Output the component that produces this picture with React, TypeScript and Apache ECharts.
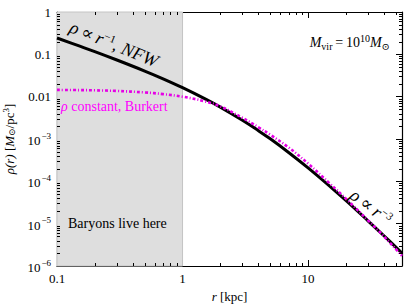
import React, { useEffect, useRef } from 'react';
import * as echarts from 'echarts';

// radius in kpc
const radii = [0.1, 0.15, 0.2, 0.3, 0.5, 0.7, 1, 1.5, 2, 3, 4, 5, 7, 10, 15, 20, 30, 40, 56];
// density in M_sun / pc^3
const nfwDensity = [0.243, 0.158, 0.116, 0.0735, 0.0403, 0.0264, 0.0163, 0.00897, 0.00566, 0.00277, 0.00159, 0.00101, 4.81e-4, 2.08e-4, 7.53e-5, 3.54e-5, 1.17e-5, 5.26e-6, 2.02e-6];
const burkertDensity = [0.01445, 0.0143, 0.01413, 0.01365, 0.01259, 0.01148, 0.01, 0.00776, 0.00589, 0.00316, 0.00191, 0.00126, 6.3e-4, 2.63e-4, 8.7e-5, 3.9e-5, 1.2e-5, 5.1e-6, 1.74e-6];

const xMin = 0.1;
const xMax = 56;
const yMin = 1e-6;
const yMax = 1;
const baryonRegion = [0.1, 1];

const xTickValues = [0.1, 1, 10];
const xTickLabels = ['0.1', '1', '10'];
const yTickValues = [1, 0.1, 0.01, 1e-3, 1e-4, 1e-5, 1e-6];
const yTickLabels = ['1', '0.1', '0.01', '{b|10}{s|−3}', '{b|10}{s|−4}', '{b|10}{s|−5}', '{b|10}{s|−6}'];

const SERIF = "'Liberation Serif', 'DejaVu Serif', serif";

function minorTicks(lo: number, hi: number): number[] {
  const out: number[] = [];
  for (let d = Math.floor(Math.log10(lo)); d <= Math.ceil(Math.log10(hi)); d++) {
    for (let k = 2; k <= 9; k++) {
      const v = k * Math.pow(10, d);
      if (v > lo && v < hi) out.push(v);
    }
  }
  return out;
}

function labelFor(values: number[], labels: string[], v: number): string {
  for (let i = 0; i < values.length; i++) {
    if (Math.abs(Math.log10(v) - Math.log10(values[i])) < 1e-6) return labels[i];
  }
  return '';
}

export default function App() {
  const ref = useRef<HTMLDivElement>(null);
  useEffect(() => {
    if (!ref.current) return;
    const chart = echarts.init(ref.current, null, { renderer: 'svg' });
    const nfwData = radii.map((r, i) => [r, nfwDensity[i]]);
    const burData = radii.map((r, i) => [r, burkertDensity[i]]);
    const minorData: number[][] = [];
    minorTicks(xMin, xMax).forEach((v) => minorData.push([v, yMax, 0]));
    minorTicks(yMin, yMax).forEach((v) => minorData.push([xMin, v, 1]));

    const tickStyle = { show: true, inside: true, length: 6, lineStyle: { color: '#000', width: 1 } };
    const lineStyle = { show: true, lineStyle: { color: '#000', width: 1.2 } };

    chart.setOption({
      animation: false,
      backgroundColor: '#fff',
      grid: { left: 57, right: 5, top: 12, bottom: 38, containLabel: false, outerBoundsMode: 'none' },
      xAxis: [
        {
          type: 'log', logBase: 10, min: xMin, max: xMax, position: 'bottom',
          axisLine: lineStyle, axisTick: tickStyle, splitLine: { show: false },
          axisLabel: {
            color: '#000', fontFamily: SERIF, fontSize: 13, margin: 6,
            formatter: (v: number) => labelFor(xTickValues, xTickLabels, v),
          },
          name: '{i|r} [kpc]', nameLocation: 'middle', nameGap: 22,
          nameTextStyle: { color: '#000', fontFamily: SERIF, fontSize: 13, rich: { i: { fontStyle: 'italic', fontFamily: SERIF, fontSize: 13, color: '#000' } } },
        },
        {
          type: 'log', logBase: 10, min: xMin, max: xMax, position: 'top',
          axisLine: lineStyle, axisTick: tickStyle, axisLabel: { show: false }, splitLine: { show: false },
        },
      ],
      yAxis: [
        {
          type: 'log', logBase: 10, min: yMin, max: yMax, position: 'left',
          axisLine: lineStyle, axisTick: tickStyle, splitLine: { show: false },
          axisLabel: {
            color: '#000', fontFamily: SERIF, fontSize: 13, margin: 6,
            formatter: (v: number) => labelFor(yTickValues, yTickLabels, v),
            rich: {
              b: { fontFamily: SERIF, fontSize: 13, color: '#000', lineHeight: 16, verticalAlign: 'bottom' },
              s: { fontFamily: SERIF, fontSize: 9, color: '#000', lineHeight: 16, verticalAlign: 'top', padding: [0, 0, 0, 1] },
            },
          },
          name: '{i|ρ(r)} [{i|M}{sub|⊙}/pc{sup|3}]', nameLocation: 'middle', nameGap: 40, nameRotate: 90,
          nameTextStyle: {
            color: '#000', fontFamily: SERIF, fontSize: 13,
            rich: {
              i: { fontStyle: 'italic', fontFamily: SERIF, fontSize: 13, color: '#000', lineHeight: 15 },
              sub: { fontFamily: SERIF, fontSize: 9, color: '#000', lineHeight: 15, verticalAlign: 'bottom' },
              sup: { fontFamily: SERIF, fontSize: 9, color: '#000', lineHeight: 15, verticalAlign: 'top' },
            },
          },
        },
        {
          type: 'log', logBase: 10, min: yMin, max: yMax, position: 'right',
          axisLine: lineStyle, axisTick: tickStyle, axisLabel: { show: false }, splitLine: { show: false },
        },
      ],
      series: [
        {
          type: 'line', name: 'NFW', data: nfwData, smooth: 0.4, showSymbol: false, z: 3,
          lineStyle: { color: '#000', width: 3 },
          markArea: {
            silent: true,
            itemStyle: { color: '#dedede', borderColor: '#c4c4c4', borderWidth: 1 },
            data: [[{ xAxis: baryonRegion[0] }, { xAxis: baryonRegion[1] }]],
          },
        },
        {
          type: 'line', name: 'Burkert', data: burData, smooth: 0.4, showSymbol: false, z: 4,
          lineStyle: { color: '#e600e6', width: 2.6, type: [3, 2, 1, 2] },
        },
        {
          type: 'custom', name: 'minor', data: minorData, silent: true, z: 10, clip: false,
          renderItem: (params: any, api: any) => {
            const cs = params.coordSys;
            const kind = api.value(2);
            const p = api.coord([api.value(0), api.value(1)]);
            const st = { stroke: '#000', lineWidth: 1 };
            if (kind === 0) {
              const x = Math.round(p[0]) + 0.5;
              return {
                type: 'group',
                children: [
                  { type: 'line', shape: { x1: x, y1: cs.y + cs.height, x2: x, y2: cs.y + cs.height - 3 }, style: st },
                  { type: 'line', shape: { x1: x, y1: cs.y, x2: x, y2: cs.y + 3 }, style: st },
                ],
              };
            }
            const y = Math.round(p[1]) + 0.5;
            return {
              type: 'group',
              children: [
                { type: 'line', shape: { x1: cs.x, y1: y, x2: cs.x + 3, y2: y }, style: st },
                { type: 'line', shape: { x1: cs.x + cs.width, y1: y, x2: cs.x + cs.width - 3, y2: y }, style: st },
              ],
            };
          },
        },
      ],
      graphic: [
        {
          type: 'text', x: 114, y: 44, rotation: -0.39, z: 20,
          style: {
            text: '{i|ρ}\u2009∝\u2009{i|r}{sup|−1}, {i|NFW}', align: 'center', verticalAlign: 'middle',
            fontFamily: SERIF, fontSize: 18, fill: '#000',
            rich: {
              i: { fontStyle: 'italic', fontFamily: SERIF, fontSize: 18, fill: '#000', lineHeight: 20 },
              sup: { fontFamily: SERIF, fontSize: 11, fill: '#000', lineHeight: 20, verticalAlign: 'top' },
            },
          },
        },
        {
          type: 'text', x: 61, y: 106, z: 20,
          style: {
            text: '{i|ρ} constant, Burkert', align: 'left', verticalAlign: 'middle',
            fontFamily: SERIF, fontSize: 14, fill: '#ff00ff',
            rich: { i: { fontStyle: 'italic', fontFamily: SERIF, fontSize: 14, fill: '#ff00ff' } },
          },
        },
        {
          type: 'text', x: 390, y: 42, z: 20,
          style: {
            text: '{i|M}{sub|vir}\u2009=\u200910{sup|10}{i|M}{sub|⊙}', align: 'right', verticalAlign: 'middle',
            fontFamily: SERIF, fontSize: 14, fill: '#000',
            rich: {
              i: { fontStyle: 'italic', fontFamily: SERIF, fontSize: 14, fill: '#000', lineHeight: 18 },
              sub: { fontFamily: SERIF, fontSize: 10, fill: '#000', lineHeight: 18, verticalAlign: 'bottom' },
              sup: { fontFamily: SERIF, fontSize: 10, fill: '#000', lineHeight: 18, verticalAlign: 'top' },
            },
          },
        },
        {
          type: 'text', x: 371, y: 207, rotation: -0.66, z: 20,
          style: {
            text: '{i|ρ}\u2009∝\u2009{i|r}{sup|−3}', align: 'center', verticalAlign: 'middle',
            fontFamily: SERIF, fontSize: 18, fill: '#000',
            rich: {
              i: { fontStyle: 'italic', fontFamily: SERIF, fontSize: 18, fill: '#000', lineHeight: 20 },
              sup: { fontFamily: SERIF, fontSize: 11, fill: '#000', lineHeight: 20, verticalAlign: 'top' },
            },
          },
        },
        {
          type: 'text', x: 68, y: 223, z: 20,
          style: {
            text: 'Baryons live here', align: 'left', verticalAlign: 'middle',
            fontFamily: SERIF, fontSize: 14, fill: '#000',
          },
        },
      ],
    });
    return () => chart.dispose();
  }, []);
  return <div ref={ref} style={{ width: 407, height: 304, position: 'absolute', left: 0, top: 0 }} />;
}
